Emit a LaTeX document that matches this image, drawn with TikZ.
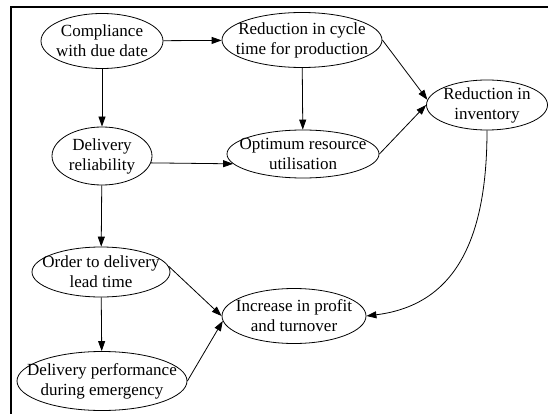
\documentclass[tikz,border=0pt]{standalone}
\usepackage{fontspec}
\setmainfont{Liberation Serif}
\usetikzlibrary{shapes.geometric,arrows.meta}
\tikzset{
  oval/.style={draw, ellipse, line width=0.8pt, inner sep=0pt},
  txt/.style={align=center, inner sep=0pt, font=\fontsize{17}{20}\selectfont},
  link/.style={line width=0.8pt, -{Triangle[length=10pt,width=7pt]}},
}
% an ellipse of fixed size with its two-line text set over it
\newcommand\ovalnode[6]{%
  \node[oval, minimum width=#3, minimum height=#4] (#1) at (#2) {};
  \node[txt] (#1-t) at (#1.center) {#5\\#6};
}
\begin{document}
\begin{tikzpicture}[x=1pt,y=-1pt]
\useasboundingbox (0,0) rectangle (548,414);
% frame
\draw[line width=1.8pt] (11,414) -- (11,7) -- (548,7);
% nodes
\ovalnode{cdd}{102,41}{122pt}{55pt}{Compliance}{with due date}
\ovalnode{rct}{302,40}{160pt}{55pt}{Reduction in cycle}{time for production}
\ovalnode{dr}{102,156}{100pt}{58pt}{Delivery}{reliability}
\ovalnode{oru}{303,154}{152pt}{48pt}{Optimum resource}{utilisation}
\ovalnode{ri}{487,105}{121pt}{50pt}{Reduction in}{inventory}
\ovalnode{odl}{101,272}{138pt}{50pt}{Order to delivery}{lead time}
\ovalnode{dpe}{102,381}{170pt}{59pt}{Delivery performance}{during emergency}
\ovalnode{ipt}{294,316}{144pt}{55pt}{Increase in profit}{and turnover}
% connectors
\draw[link] (cdd) -- (rct);
\draw[link] (cdd) -- (dr);
\draw[link] (rct) -- (oru);
\draw[link] (rct.east) -- (ri.175);
\draw[link] (dr.352) -- (oru.188);
\draw[link] (oru.east) -- (ri.west);
\draw[link] (dr) -- (odl);
\draw[link] (odl.5) -- (ipt.west);
\draw[link] (odl) -- (dpe);
\draw[link] (dpe.east) -- (ipt.184);
\draw[link] (ri.south) .. controls (487,240) and (455,305) .. (ipt.east);
\end{tikzpicture}
\end{document}
